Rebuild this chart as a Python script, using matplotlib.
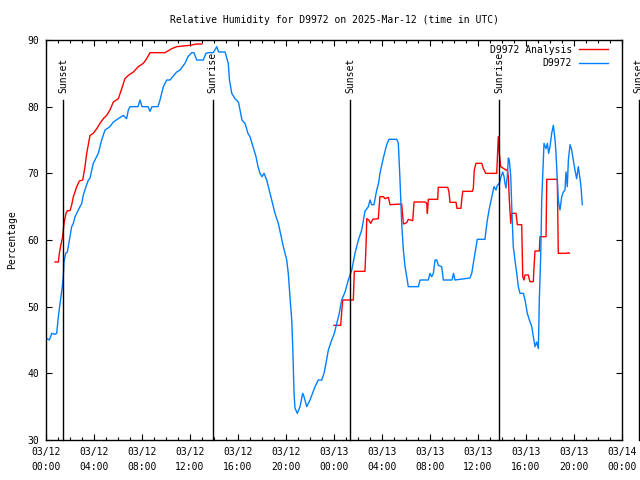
import numpy as np
import matplotlib
matplotlib.use("Agg")
import matplotlib.pyplot as plt
from matplotlib.ticker import MultipleLocator

# hours since 2025-03-12 00:00 UTC
obs_hours = [0.08, 0.28, 0.48, 0.75, 0.89, 1.03, 1.17, 1.36, 1.44, 1.5, 1.64, 1.78, 2.0, 2.14, 2.28,
             2.42, 2.69, 2.83, 2.98, 3.11, 3.33, 3.53, 3.67, 3.94, 4.36, 4.64, 4.92, 5.33, 5.61, 6.03,
             6.44, 6.72, 6.86, 7.0, 7.67, 7.83, 8.0, 8.5, 8.67, 8.83, 9.33, 9.5, 9.78, 10.06, 10.33,
             10.89, 11.17, 11.58, 11.83, 12.14, 12.33, 12.56, 13.11, 13.33, 13.53, 13.94, 14.23, 14.38,
             14.92, 15.19, 15.29, 15.48, 15.75, 16.03, 16.17, 16.33, 16.58, 16.83, 17.0, 17.25, 17.5,
             17.67, 17.83, 18.0, 18.17, 18.39, 18.67, 19.08, 19.36, 19.78, 20.06, 20.19, 20.33, 20.48,
             20.56, 20.61, 20.67, 20.75, 20.94, 21.17, 21.39, 21.5, 21.73, 22.0, 22.42, 22.69, 22.98,
             23.17, 23.33, 23.53, 23.81, 24.03, 24.23, 24.44, 24.64, 24.92, 25.19, 25.48, 25.75, 26.03,
             26.31, 26.58, 26.86, 27.0, 27.14, 27.33, 27.56, 27.71, 27.83, 28.11, 28.39, 28.58, 29.23,
             29.36, 29.5, 29.64, 29.78, 29.92, 30.06, 30.19, 31.03, 31.17, 31.86, 32.0, 32.14, 32.28,
             32.42, 32.56, 32.69, 32.98, 33.11, 33.67, 33.83, 33.96, 34.08, 35.33, 35.48, 35.61, 35.75,
             35.89, 35.94, 36.58, 36.67, 36.78, 36.92, 37.06, 37.23, 37.33, 37.5, 37.61, 37.78, 37.92,
             38.06, 38.17, 38.25, 38.33, 38.44, 38.53, 38.61, 38.73, 38.83, 38.94, 39.08, 39.23, 39.36,
             39.5, 39.78, 39.92, 40.11, 40.28, 40.48, 40.61, 40.75, 40.89, 41.03, 41.11, 41.23, 41.31,
             41.39, 41.5, 41.67, 41.78, 41.89, 42.0, 42.14, 42.28, 42.42, 42.5, 42.61, 42.69, 42.83,
             42.98, 43.11, 43.25, 43.33, 43.44, 43.53, 43.67, 43.81, 43.94, 44.08, 44.22, 44.36, 44.5,
             44.58, 44.69]
obs_rh = [45.2, 45, 46, 45.85, 46, 48.5, 50.5, 53, 54.5, 56.7, 58, 58.2, 60.5, 62, 62.5,
          63.5, 64.5, 65, 65.5, 66.75, 68, 69, 69.3, 71.5, 73, 75, 76.5, 77, 77.7, 78.2,
          78.7, 78.2, 79.5, 80, 80, 81, 80, 80, 79.3, 80, 80, 81, 83, 84, 84,
          85.2, 85.5, 86.5, 87.5, 88.1, 88.1, 87, 87, 88, 88.1, 88.1, 89, 88.2,
          88.2, 86.5, 84, 82, 81.2, 80.7, 79.5, 78, 77.5, 76, 75.5, 74, 72.5,
          71, 70, 69.5, 70, 69, 67, 64, 62.5, 59, 57, 55, 51.5, 48,
          44, 41, 37, 34.8, 34, 35, 37, 36.5, 35, 36, 38, 39, 39,
          40, 41.5, 43.5, 45, 46, 47.5, 49, 51, 52.2, 54, 55.5, 58, 60,
          61.5, 64.3, 65, 66, 65.3, 65.3, 67.5, 68.5, 70, 72.3, 74.3, 75.1, 75.1,
          74.5, 69, 62.5, 58.5, 56, 54.5, 53, 53, 54, 54, 55, 54.5, 55,
          57, 57, 56.2, 56, 54, 54, 54, 55, 54, 54.3, 55, 56.5, 58,
          59.5, 60.1, 60.1, 61.5, 63, 64.5, 65.7, 67.2, 68, 67.5, 68.2, 68.5, 69.5,
          70.2, 69.5, 68.5, 67.8, 69.5, 72.3, 72, 69.5, 64, 59, 57, 55, 53,
          52, 52, 51, 49, 48, 47, 45.5, 44, 44.7, 43.7, 51, 58, 66,
          69.5, 74.5, 73.7, 74.5, 73, 74, 76, 77.2, 75, 73, 69, 66, 64.5,
          66.5, 67.2, 67.5, 70.2, 68, 72, 74.3, 73.5, 72, 70.5, 69.2, 71, 69.2,
          68, 65.3]

ana_hours = [0.75, 1.03, 1.11, 1.23, 1.39, 1.5, 1.67, 1.78, 2.0, 2.14, 2.28, 2.56, 2.78, 3.06, 3.25,
             3.39, 3.67, 3.94, 4.23, 4.5, 4.78, 5.06, 5.33, 5.61, 6.03, 6.31, 6.58, 6.86, 7.28, 7.69,
             8.11, 8.39, 8.67, 9.92, 10.48, 10.89, 11.44, 12.0, 12.56, 12.98, np.nan,
             24.0, 24.56, 24.64, 24.73, 25.61, 25.69, 26.58, 26.67, 26.73, 26.89, 27.06, 27.23, 27.69,
             27.83, 28.11, 28.25, 28.53, 28.67, 29.64, 29.73, 29.78, 30.06, 30.19, 30.56, 30.67, 31.58,
             31.73, 31.78, 31.86, 32.64, 32.69, 33.48, 33.58, 33.67, 34.17, 34.25, 34.58, 34.64, 34.73,
             35.53, 35.61, 35.69, 35.83, 36.31, 36.44, 36.64, 37.56, 37.69, 37.78, 37.89, 38.11, 38.33,
             38.44, 38.53, 38.61, 38.73, 38.81, 39.17, 39.28, 39.64, 39.73, 39.83, 39.92, 40.19, 40.33,
             40.61, 40.67, 40.75, 41.11, 41.17, 41.67, 41.73, 42.61, 42.69, 43.39, 43.53, 43.61]
ana_rh = [56.7, 56.7, 58, 59.2, 60.5, 62.5, 64, 64.4, 64.4, 65.25, 66.5, 68, 68.85, 69, 71,
          73, 75.7, 76, 76.7, 77.5, 78.2, 78.7, 79.5, 80.7, 81.2, 82.7, 84.2, 84.7, 85.2, 86,
          86.5, 87.2, 88.1, 88.1, 88.7, 89, 89.1, 89.2, 89.4, 89.4, np.nan,
          47.2, 47.2, 49.2, 51, 51, 55.3, 55.3, 59.2, 63.2, 63, 62.5, 63.1, 63.2,
          66.5, 66.5, 66.2, 66.4, 65.3, 65.4, 63.5, 62.4, 62.6, 63.1, 62.9, 65.7, 65.7,
          65.5, 64, 66.1, 66.1, 67.9, 67.9, 67.2, 65.65, 65.65, 64.75, 64.75, 66, 67.3,
          67.3, 67.75, 70.5, 71.5, 71.5, 70.75, 70, 70, 75.5, 73, 71, 70.75, 70.5,
          70.5, 69.5, 66, 62.5, 64, 64, 62.3, 62.3, 54.5, 54, 54.75, 54.75, 53.75,
          53.75, 56, 58.35, 58.35, 60.5, 60.5, 69.1, 69.1, 58, 58, 58.1, 58]

sun_hours = [1.45, 13.9, 25.37, 37.78, 49.4]
sun_labels = ["Sunset", "Sunrise", "Sunset", "Sunrise", "Sunset"]

tick_hours = list(range(0, 49, 4))
tick_labels = ["03/12\n00:00", "03/12\n04:00", "03/12\n08:00", "03/12\n12:00", "03/12\n16:00",
               "03/12\n20:00", "03/13\n00:00", "03/13\n04:00", "03/13\n08:00", "03/13\n12:00",
               "03/13\n16:00", "03/13\n20:00", "03/14\n00:00"]

plt.rcParams['font.family'] = ['DejaVu Sans Mono']
plt.rcParams['font.size'] = 7

fig = plt.figure(figsize=(6.4, 4.8), dpi=100)
ax = fig.add_axes([46 / 640, 40 / 480, 576 / 640, 400 / 480])

ax.plot(ana_hours, ana_rh, color='#ff0000', lw=1.0, label='D9972 Analysis')
ax.plot(obs_hours, obs_rh, color='#0080ff', lw=1.0, label='D9972')

# sunrise / sunset markers (last one sits outside the frame, as in the original)
for h, lab in zip(sun_hours, sun_labels):
    ax.plot([h, h], [30, 81], color='black', lw=1.0, clip_on=False)
    ax.text(h, 82.1, lab, rotation=90, ha='center', va='bottom', clip_on=False)

ax.set_xlim(0, 48)
ax.set_ylim(30, 90)
ax.set_xticks(tick_hours)
ax.set_xticklabels(tick_labels, linespacing=1.6)
ax.xaxis.set_minor_locator(MultipleLocator(1))
ax.set_yticks(range(30, 91, 10))
ax.tick_params(which='both', direction='in', top=True, right=True, color='black')
ax.tick_params(which='major', length=4, width=0.8, pad=5)
ax.tick_params(which='minor', length=2, width=0.8)
for s in ax.spines.values():
    s.set_linewidth(1.0)

ax.legend(loc='upper right', bbox_to_anchor=(1 - 9 / 576, 1.0), frameon=False, markerfirst=False,
          handlelength=3.0, handletextpad=0.7, labelspacing=0.35, borderaxespad=0.2, borderpad=0.3)

fig.text(334 / 640, 1 - 20 / 480, 'Relative Humidity for D9972 on 2025-Mar-12 (time in UTC)',
         ha='center', va='center')
fig.text(12 / 640, 0.5, 'Percentage', rotation=90, ha='center', va='center')

fig.savefig('out.png', dpi=100)
